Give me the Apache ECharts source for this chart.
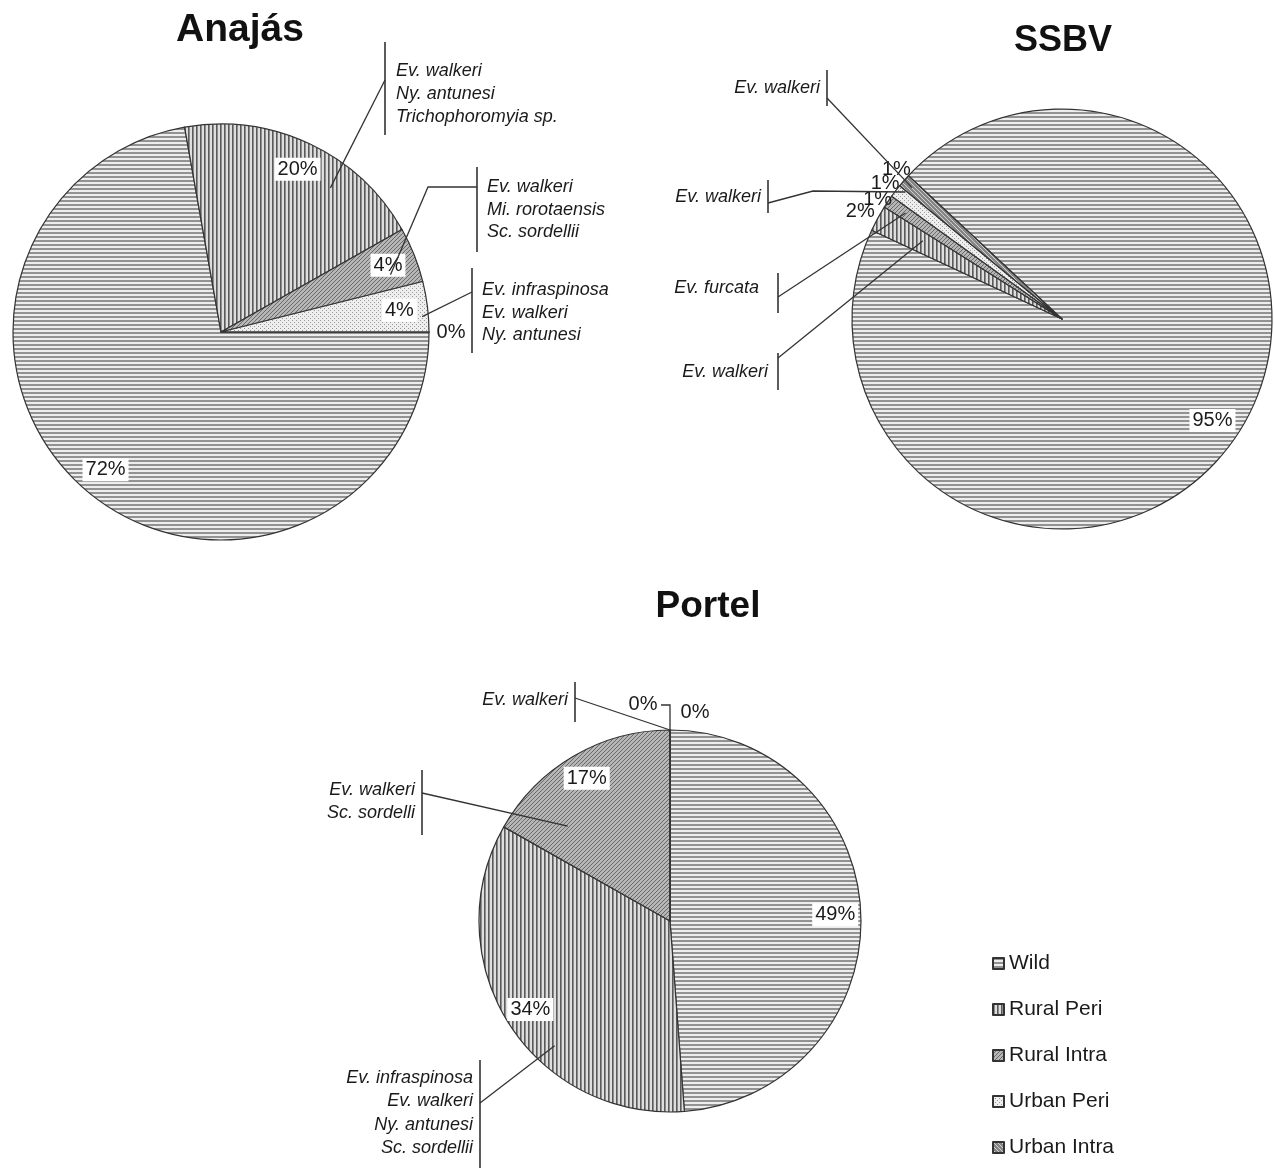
<!DOCTYPE html>
<html><head><meta charset="utf-8">
<script src="https://cdn.jsdelivr.net/npm/echarts@6/dist/echarts.min.js"></script>
<style>html,body{margin:0;padding:0;background:#fff}#c{width:1274px;height:1168px}</style>
</head><body><div id="c"></div>
<script>
// ---------- data ----------
const categories = ['Wild', 'Rural Peri', 'Rural Intra', 'Urban Peri', 'Urban Intra'];
const titles = ['Anajás', 'SSBV', 'Portel'];
const anajasValues = [72.2, 19.6, 4.3, 3.9, 0];
const ssbvValues = [95.0, 2.0, 1.0, 1.0, 1.0];
const portelValues = [48.8, 34.4, 16.8, 0, 0];
const anajasSpecies = [
  ['Ev. walkeri', 'Ny. antunesi', 'Trichophoromyia sp.'],
  ['Ev. walkeri', 'Mi. rorotaensis', 'Sc. sordellii'],
  ['Ev. infraspinosa', 'Ev. walkeri', 'Ny. antunesi']
];
const ssbvSpecies = [['Ev. walkeri'], ['Ev. walkeri'], ['Ev. furcata'], ['Ev. walkeri']];
const portelSpecies = [
  ['Ev. walkeri'],
  ['Ev. walkeri', 'Sc. sordelli'],
  ['Ev. infraspinosa', 'Ev. walkeri', 'Ny. antunesi', 'Sc. sordellii']
];

// ---------- layout / style ----------
const FONT = '"Liberation Sans", Arial, Helvetica, sans-serif';
const pies = [
  { values: anajasValues, center: [221, 332], radius: 208, startAngle: 0,
    inner: [0, 1, 2, 3], outer: [4], offsets: {}, title: [240, 30], titleSize: 39 },
  { values: ssbvValues, center: [1062, 319], radius: 210, startAngle: 137,
    inner: [0], outer: [1, 2, 3, 4], offsets: { 1: [2, 4], 2: [8, 10], 3: [7, 6], 4: [9, 3] }, title: [1063, 41], titleSize: 36 },
  { values: portelValues, center: [670, 921], radius: 191, startAngle: 90,
    inner: [0, 1, 2], outer: [3, 4], offsets: { 3: [-27, -4], 4: [25, 4] }, title: [708, 607], titleSize: 37 }
];
// annotation boxes (species callouts): pie index, target slice, where in slice the leader ends
const notes = [
  { pie: 0, slice: 1, t: 0.67, rf: 0.87, lines: anajasSpecies[0], side: 'right', barX: 385, bar: [42, 135], textX: 396, textY: 71, lh: 23, path: [[385, 80]] },
  { pie: 0, slice: 2, t: 0.70, rf: 0.86, lines: anajasSpecies[1], side: 'right', barX: 477, bar: [167, 252], textX: 487, textY: 187, lh: 22.5, path: [[477, 187], [428, 187]] },
  { pie: 0, slice: 3, t: 0.69, rf: 0.97, lines: anajasSpecies[2], side: 'right', barX: 472, bar: [268, 353], textX: 482, textY: 290, lh: 22.5, path: [[472, 292]] },
  { pie: 1, slice: 4, t: 0.5, rf: 0.95, lines: ssbvSpecies[0], side: 'left', barX: 827, bar: [70, 106], textX: 820, textY: 88, lh: 23, path: [[827, 98]] },
  { pie: 1, slice: 3, t: 0.9, rf: 0.96, lines: ssbvSpecies[1], side: 'left', barX: 768, bar: [180, 213], textX: 761, textY: 197, lh: 23, path: [[768, 203], [813, 191]] },
  { pie: 1, slice: 2, t: 0.53, rf: 0.9, lines: ssbvSpecies[2], side: 'left', barX: 778, bar: [273, 313], textX: 759, textY: 288, lh: 23, path: [[778, 297]] },
  { pie: 1, slice: 1, t: 0.6, rf: 0.76, lines: ssbvSpecies[3], side: 'left', barX: 778, bar: [353, 390], textX: 768, textY: 372, lh: 23, path: [[778, 358]] },
  { pie: 2, slice: 3, t: 0, rf: 1.0, lines: portelSpecies[0], side: 'left', barX: 575, bar: [682, 722], textX: 568, textY: 700, lh: 23, path: [[575, 698]] },
  { pie: 2, slice: 2, t: 0.22, rf: 0.73, lines: portelSpecies[1], side: 'left', barX: 422, bar: [770, 835], textX: 415, textY: 790, lh: 23, path: [[422, 793]] },
  { pie: 2, slice: 1, t: 0.38, rf: 0.89, lines: portelSpecies[2], side: 'left', barX: 480, bar: [1060, 1172], textX: 473, textY: 1078, lh: 23.3, path: [[480, 1103]] },
  { pie: 2, slice: 3, t: 0, rf: 1.0, lines: [], path: [[661, 705], [670, 705]] }
];

function makePattern(kind) {
  const c = document.createElement('canvas');
  c.width = 4; c.height = 4;
  const g = c.getContext('2d');
  const px = (x, y, col) => { g.fillStyle = col; g.fillRect(x, y, 1, 1); };
  if (kind === 'h') {
    g.fillStyle = '#ededed'; g.fillRect(0, 0, 4, 4);
    g.fillStyle = '#929292'; g.fillRect(0, 0, 4, 2);
  } else if (kind === 'v') {
    g.fillStyle = '#dedede'; g.fillRect(0, 0, 4, 4);
    g.fillStyle = '#5a5a5a'; g.fillRect(0, 0, 1, 4);
    g.fillStyle = '#8c8c8c'; g.fillRect(1, 0, 1, 4);
  } else if (kind === 'd') {
    g.fillStyle = '#b6b6b6'; g.fillRect(0, 0, 4, 4);
    [[0, 3], [1, 2], [2, 1], [3, 0]].forEach(p => px(p[0], p[1], '#6a6a6a'));
  } else if (kind === 'dots') {
    g.fillStyle = '#eeeeee'; g.fillRect(0, 0, 4, 4);
    px(0, 0, '#9a9a9a'); px(2, 2, '#9a9a9a');
  } else {
    g.fillStyle = '#858585'; g.fillRect(0, 0, 4, 4);
    [[0, 0], [1, 1], [2, 2], [3, 3]].forEach(p => px(p[0], p[1], '#cfcfcf'));
  }
  return { image: c, repeat: 'repeat' };
}
const patterns = [makePattern('h'), makePattern('v'), makePattern('d'), makePattern('dots'), makePattern('x')];

const labelBase = { fontSize: 20, color: '#1a1a1a', fontFamily: FONT };
const series = [];
pies.forEach(p => {
  series.push({
    type: 'pie', center: p.center, radius: p.radius, startAngle: p.startAngle, clockwise: true,
    animation: false, avoidLabelOverlap: false, silent: true,
    label: { show: false }, labelLine: { show: false },
    itemStyle: { borderColor: '#333', borderWidth: 1.2 },
    emphasis: { disabled: true },
    data: categories.map((name, i) => ({ name, value: p.values[i], itemStyle: { color: patterns[i] } }))
  });
});
pies.forEach(p => {
  series.push({
    type: 'pie', center: p.center, radius: [p.radius * 0.7, p.radius], startAngle: p.startAngle, clockwise: true,
    animation: false, avoidLabelOverlap: false, silent: true, percentPrecision: 0, z: 5,
    labelLayout: { hideOverlap: false },
    itemStyle: { color: 'rgba(0,0,0,0)', borderWidth: 0 },
    label: Object.assign({ show: true, position: 'inside', formatter: '{d}%', backgroundColor: '#fff', padding: [2, 3, 1, 3] }, labelBase),
    labelLine: { show: false }, emphasis: { disabled: true },
    data: categories.map((name, i) => ({ name, value: p.values[i], label: { show: p.inner.indexOf(i) >= 0 } }))
  });
});
pies.forEach(p => {
  series.push({
    type: 'pie', center: p.center, radius: [p.radius + 4, p.radius + 34], startAngle: p.startAngle, clockwise: true,
    animation: false, avoidLabelOverlap: false, silent: true, percentPrecision: 0, z: 5,
    labelLayout: { hideOverlap: false },
    itemStyle: { color: 'rgba(0,0,0,0)', borderWidth: 0 },
    label: Object.assign({ show: true, position: 'inside', formatter: '{d}%' }, labelBase),
    labelLine: { show: false }, emphasis: { disabled: true },
    data: categories.map((name, i) => ({
      name, value: p.values[i],
      label: { show: p.outer.indexOf(i) >= 0, offset: p.offsets[i] || [0, 0] }
    }))
  });
});

const option = {
  backgroundColor: '#fff',
  animation: false,
  title: pies.map((p, i) => ({
    text: titles[i], left: p.title[0], top: p.title[1], textAlign: 'center', textVerticalAlign: 'middle', padding: 0,
    textStyle: { fontSize: p.titleSize, fontWeight: 'bold', color: '#111', fontFamily: FONT }
  })),
  legend: {
    orient: 'vertical', left: 992, top: 953, padding: 0, itemWidth: 11, itemHeight: 11, itemGap: 25,
    icon: 'rect', selectedMode: false, data: categories,
    textStyle: { fontSize: 21, color: '#1a1a1a', fontFamily: FONT }
  },
  series: series
};

const chart = echarts.init(document.getElementById('c'), null, { renderer: 'canvas' });
chart.setOption(option);

function sliceLayout(pieIdx, slice) {
  let lay = null;
  try { lay = chart.getModel().getSeriesByIndex(pieIdx).getData().getItemLayout(slice); } catch (e) { lay = null; }
  if (!lay) {
    const p = pies[pieIdx];
    const sum = p.values.reduce((a, b) => a + b, 0);
    let a0 = -p.startAngle * Math.PI / 180;
    for (let i = 0; i < slice; i++) a0 += p.values[i] / sum * 2 * Math.PI;
    lay = { cx: p.center[0], cy: p.center[1], r: p.radius, startAngle: a0, endAngle: a0 + p.values[slice] / sum * 2 * Math.PI };
  }
  return lay;
}
function anchor(n) {
  const lay = sliceLayout(n.pie, n.slice);
  const a = lay.startAngle + n.t * (lay.endAngle - lay.startAngle);
  return [lay.cx + n.rf * lay.r * Math.cos(a), lay.cy + n.rf * lay.r * Math.sin(a)];
}

const elements = [];
notes.forEach(n => {
  const pts = n.path.concat([anchor(n)]);
  elements.push({ type: 'polyline', z: 100, silent: true, shape: { points: pts }, style: { stroke: '#333', lineWidth: 1.3, fill: null } });
  if (n.lines.length) {
    elements.push({ type: 'line', z: 100, silent: true, shape: { x1: n.barX, y1: n.bar[0], x2: n.barX, y2: n.bar[1] }, style: { stroke: '#333', lineWidth: 1.6 } });
    n.lines.forEach((txt, k) => {
      elements.push({
        type: 'text', z: 100, silent: true, x: n.textX, y: n.textY + k * n.lh,
        style: { text: txt, align: n.side === 'right' ? 'left' : 'right', verticalAlign: 'middle',
          fontSize: 18, fontStyle: 'italic', fontFamily: FONT, fill: '#1a1a1a' }
      });
    });
  }
});
chart.setOption({ graphic: { elements: elements } });
</script>
</body></html>
